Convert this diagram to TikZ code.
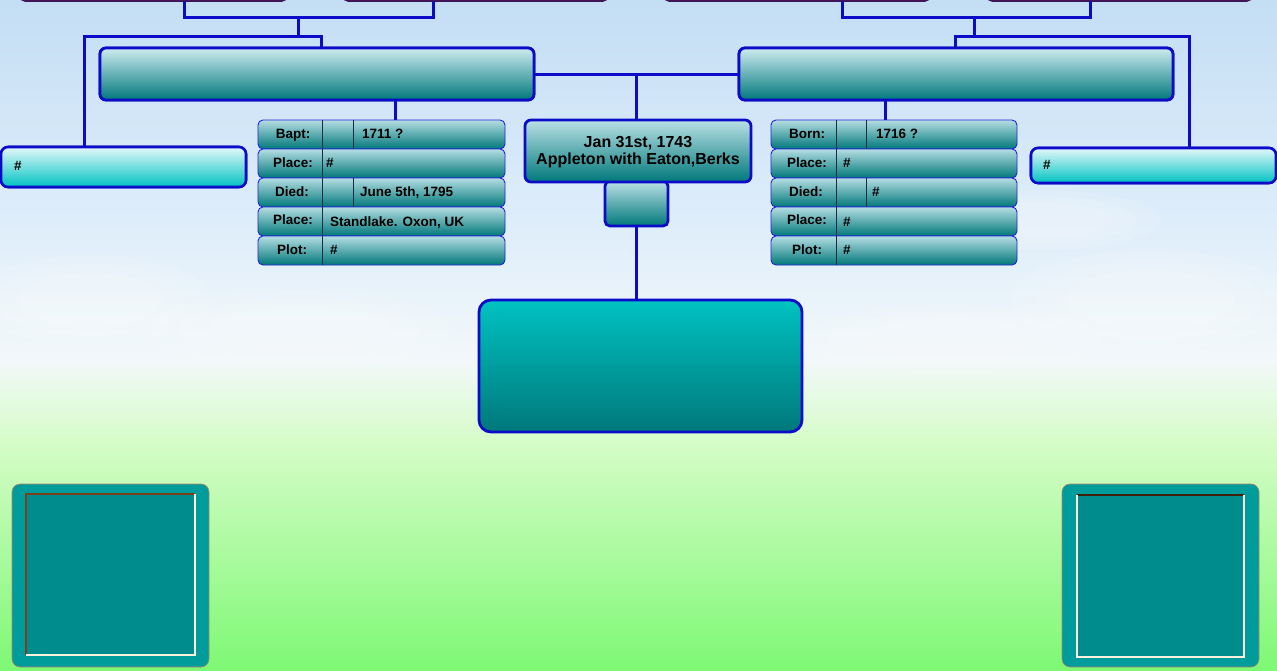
\documentclass[tikz,border=0pt]{standalone}
\usepackage{fontspec}
\setmainfont{Liberation Sans}
\definecolor{linkblue}{RGB}{12,12,200}
\definecolor{rowborder}{RGB}{35,35,215}
\definecolor{tealdark}{RGB}{0,120,122}
\definecolor{tealmid}{RGB}{80,165,172}
\definecolor{teallight}{RGB}{205,235,240}
\definecolor{cyanbright}{RGB}{0,194,194}
\definecolor{hashtop}{RGB}{228,248,250}
\definecolor{purpbox}{RGB}{88,24,78}
\definecolor{purpline}{RGB}{60,20,90}
\definecolor{sqouter}{RGB}{0,155,155}
\definecolor{sqinner}{RGB}{0,140,140}
\definecolor{sqbrown}{RGB}{125,62,25}
\definecolor{sqcream}{RGB}{250,240,220}
\definecolor{divcol}{RGB}{25,45,70}
\definecolor{skyA}{RGB}{196,222,244}
\definecolor{skyB}{RGB}{222,237,250}
\definecolor{skyC}{RGB}{242,248,250}
\definecolor{grnA}{RGB}{214,252,200}
\definecolor{grnB}{RGB}{126,248,116}
\begin{document}
\begin{tikzpicture}[x=1pt,y=-1pt,
  every node/.style={inner sep=0pt,outer sep=0pt},
  conn/.style={draw=linkblue,line width=3pt},
  parentbox/.style={draw=linkblue,line width=2.8pt,rounded corners=6pt,
    top color=teallight,middle color=tealmid,bottom color=tealdark,anchor=north west},
  rowbox/.style={draw=rowborder,line width=0.9pt,rounded corners=5pt,
    top color=teallight!80!tealmid,bottom color=tealdark,anchor=north west,
    minimum height=29pt},
  hashbox/.style={draw=linkblue,line width=2.6pt,rounded corners=7pt,
    top color=hashtop,bottom color=cyanbright,anchor=north west,minimum width=245pt},
  centbox/.style={draw=linkblue,line width=2.8pt,rounded corners=6pt,
    top color=teallight!85!tealmid,bottom color=tealdark,anchor=north west},
  bigbox/.style={draw=linkblue,line width=2.8pt,rounded corners=12pt,
    top color=cyanbright,bottom color=tealdark,anchor=north west},
  gpbox/.style={draw=purpline,line width=1.5pt,rounded corners=5pt,fill=purpbox,
    anchor=north west,minimum height=26pt},
  lbl/.style={font=\bfseries\fontsize{13.5}{15}\selectfont,text height=9.5pt,text depth=2.5pt},
  val/.style={lbl,anchor=west},
  divider/.style={draw=divcol,line width=0.8pt},
  sqout/.style={fill=sqouter,draw=sqbrown!60!sqcream,line width=0.6pt,rounded corners=8pt,anchor=north west},
  sqin/.style={fill=sqinner,anchor=north west},
  cloud/.style={fill=white,opacity=0.12}
]
\useasboundingbox (0,0) rectangle (1277,670);
% background sky to grass
\fill[top color=skyA,bottom color=skyB] (0,0) rectangle (1277,221);
\fill[top color=skyB,bottom color=skyC] (0,220) rectangle (1277,361);
\fill[top color=skyC,bottom color=grnA] (0,360) rectangle (1277,441);
\fill[top color=grnA,bottom color=grnB] (0,440) rectangle (1277,670);
% soft clouds (layered for soft edges)
\foreach \s in {1.0,0.8,0.6}{
  \fill[cloud] (90,300) ellipse ({120*\s} and {45*\s});
  \fill[cloud] (300,330) ellipse ({150*\s} and {40*\s});
  \fill[cloud] (1150,300) ellipse ({140*\s} and {50*\s});
  \fill[cloud] (950,340) ellipse ({150*\s} and {35*\s});
  \fill[cloud] (1040,220) ellipse ({120*\s} and {30*\s});
}

% grandparent boxes (cut off at top)
\node[gpbox,minimum width=267pt] (gp1) at (20,-25) {};
\node[gpbox,minimum width=265pt] (gp2) at (343,-25) {};
\node[gpbox,minimum width=266pt] (gp3) at (664,-25) {};
\node[gpbox,minimum width=265pt] (gp4) at (987,-25) {};

% parent boxes
\node[parentbox,minimum width=434pt,minimum height=52pt] (pL) at (100,48) {};
\node[parentbox,minimum width=434pt,minimum height=52pt] (pR) at (739,48) {};

% sibling / spouse boxes
\node[hashbox,minimum height=40pt] (hashL) at (1,147) {};
\node[hashbox,minimum height=35pt] (hashR) at (1031,148) {};

% junction coordinates
\coordinate (a1) at (184,17);
\coordinate (a2) at (433,17);
\coordinate (a3) at (298,17);
\coordinate (a4) at (298,36);
\coordinate (a5) at (84,36);
\coordinate (a6) at (321,36);
\coordinate (b1) at (395,110);
\coordinate (r1) at (842,17);
\coordinate (r2) at (1090,17);
\coordinate (r3) at (974,17);
\coordinate (r4) at (974,36);
\coordinate (r5) at (955,36);
\coordinate (r6) at (1189,36);
\coordinate (b2) at (885,110);
\coordinate (c1) at (636,74);

% connectors
\draw[conn] (gp1.south -| a1) -- (a1) -- (a2) -- (gp2.south -| a2);
\draw[conn] (a3) -- (a4);
\draw[conn] (hashL.north -| a5) -- (a5) -- (a6) -- (pL.north -| a6);
\draw[conn] (gp3.south -| r1) -- (r1) -- (r2) -- (gp4.south -| r2);
\draw[conn] (r3) -- (r4);
\draw[conn] (pR.north -| r5) -- (r5) -- (r6) -- (hashR.north -| r6);
\draw[conn] (pL.east) -- (pR.west);
\draw[conn] (c1) -- (636,300);
\draw[conn] (pL.south -| b1) -- (395,121);
\draw[conn] (pR.south -| b2) -- (885,121);

% redraw boxes on top of connector ends
\node[parentbox,minimum width=434pt,minimum height=52pt] at (100,48) {};
\node[parentbox,minimum width=434pt,minimum height=52pt] at (739,48) {};
\node[hashbox,minimum height=40pt] at (1,147) {};
\node[hashbox,minimum height=35pt] at (1031,148) {};
\node[lbl,anchor=west] (hashLt) at ([xshift=13pt]hashL.west) {\#};
\node[lbl,anchor=west] (hashRt) at ([xshift=12pt]hashR.west) {\#};

% info rows
\foreach \i/\yy in {1/120,2/149,3/178,4/207,5/236}{
  \node[rowbox,minimum width=247pt] (rowL\i) at (258,\yy) {};
  \draw[divider] ([xshift=64pt]rowL\i.north west) -- ([xshift=64pt]rowL\i.south west);
  \node[rowbox,minimum width=246pt] (rowR\i) at (771,\yy) {};
  \draw[divider] ([xshift=65pt]rowR\i.north west) -- ([xshift=65pt]rowR\i.south west);
}
\draw[divider] ([xshift=95pt]rowL1.north west) -- ([xshift=95pt]rowL1.south west);
\draw[divider] ([xshift=95pt]rowL3.north west) -- ([xshift=95pt]rowL3.south west);
\draw[divider] ([xshift=95pt]rowR1.north west) -- ([xshift=95pt]rowR1.south west);
\draw[divider] ([xshift=95pt]rowR3.north west) -- ([xshift=95pt]rowR3.south west);

\node[lbl] (tL1) at ([xshift=35pt]rowL1.west) {Bapt:};
\node[lbl] (tL2) at ([xshift=35pt]rowL2.west) {Place:};
\node[lbl] (tL3) at ([xshift=34pt]rowL3.west) {Died:};
\node[lbl] (tL4) at ([xshift=35pt,yshift=1pt]rowL4.west) {Place:};
\node[lbl] (tL5) at ([xshift=34pt]rowL5.west) {Plot:};
\node[val] (vL1) at ([xshift=104pt]rowL1.west) {1711 ?};
\node[val] (vL2) at ([xshift=68pt]rowL2.west) {\#};
\node[val] (vL3) at ([xshift=102pt]rowL3.west) {June 5th, 1795};
\node[val] (vL4) at ([xshift=72pt,yshift=-1pt]rowL4.west) {Standlake. Oxon, UK};
\node[val] (vL5) at ([xshift=72pt]rowL5.west) {\#};

\node[lbl] (tR1) at ([xshift=36pt]rowR1.west) {Born:};
\node[lbl] (tR2) at ([xshift=36pt]rowR2.west) {Place:};
\node[lbl] (tR3) at ([xshift=35pt]rowR3.west) {Died:};
\node[lbl] (tR4) at ([xshift=36pt,yshift=1pt]rowR4.west) {Place:};
\node[lbl] (tR5) at ([xshift=36pt]rowR5.west) {Plot:};
\node[val] (vR1) at ([xshift=105pt]rowR1.west) {1716 ?};
\node[val] (vR2) at ([xshift=72pt]rowR2.west) {\#};
\node[val] (vR3) at ([xshift=101pt]rowR3.west) {\#};
\node[val] (vR4) at ([xshift=72pt,yshift=-1pt]rowR4.west) {\#};
\node[val] (vR5) at ([xshift=72pt]rowR5.west) {\#};

% centre person
\node[centbox,minimum width=63pt,minimum height=45pt,rounded corners=5pt] (sb) at (605,181) {};
\node[centbox,minimum width=226pt,minimum height=62pt] (cb) at (525,120) {};
\node[font=\bfseries\fontsize{16}{17.5}\selectfont,align=center] (cbt) at ([yshift=-1pt]cb.center)
  {Jan 31st, 1743\\Appleton with Eaton,Berks};

% children box
\node[bigbox,minimum width=323pt,minimum height=132pt] (bb) at (479,300) {};

% photo frames
\node[sqout,minimum width=197pt,minimum height=183pt] (sqL) at (12,484) {};
\node[sqin,minimum width=169pt,minimum height=161pt] (sqLi) at (26,494) {};
\draw[sqbrown,line width=1.2pt] (sqLi.south west) -- (sqLi.north west) -- (sqLi.north east);
\draw[sqcream,line width=1.2pt] (sqLi.north east) -- (sqLi.south east) -- (sqLi.south west);
\node[sqout,minimum width=197pt,minimum height=183pt] (sqR) at (1062,484) {};
\node[sqin,minimum width=167pt,minimum height=162pt] (sqRi) at (1077,495) {};
\draw[sqbrown!50!black,line width=1.2pt] (sqRi.north west) -- (sqRi.north east);
\draw[sqcream,line width=1.2pt] (sqRi.north west) -- (sqRi.south west) -- (sqRi.south east) -- (sqRi.north east);
\end{tikzpicture}
\end{document}
